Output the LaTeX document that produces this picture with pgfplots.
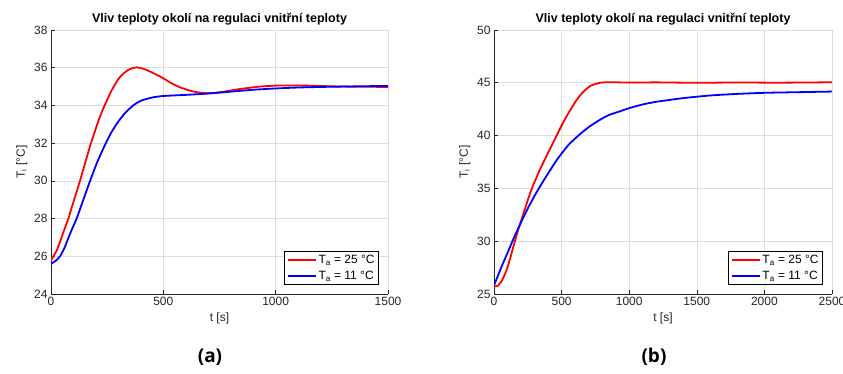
\documentclass[border=0pt]{standalone}
\usepackage{fontspec}
\setmainfont{Liberation Sans}
\newfontfamily\capfont{Open Sans}
\usepackage{pgfplots}
\pgfplotsset{compat=1.18}
\definecolor{axgray}{gray}{0.15}
\definecolor{gridgray}{gray}{0.87}
\pgfplotsset{mystyle/.style={
  scale only axis, width=337pt, height=264pt,
  axis x line*=bottom, axis y line*=left,
  axis line style={axgray, line width=0.6pt, -},
  grid=major, major grid style={gridgray, line width=0.6pt},
  tick style={axgray, line width=0.6pt}, tick align=inside,
  major tick length=4pt,
  /pgf/number format/assume math mode=true,
  /pgf/number format/1000 sep={}, scaled ticks=false,
  tick label style={font=\fontsize{12}{12}\selectfont, text=axgray},
  label style={font=\fontsize{12}{12}\selectfont, text=axgray},
  title style={font=\bfseries\fontsize{12.5}{12.5}\selectfont, yshift=-5pt},
  title={Vliv teploty okolí na regulaci vnitřní teploty},
  xlabel={t [s]}, ylabel={T\textsubscript{i} [°C]},
  legend style={at={(0.973,0.034)}, anchor=south east, draw=black, line width=0.6pt,
    font=\fontsize{12}{12}\selectfont, inner sep=2pt, row sep=2pt},
  legend cell align=left,
  legend image code/.code={\draw[#1, line width=1.8pt] (0pt,0pt) -- (28pt,0pt);},
  every axis plot/.append style={line width=1.8pt, no marks, line join=round, smooth, tension=0.4},
}}
\begin{document}
\begin{tikzpicture}
\useasboundingbox (0pt,0pt) rectangle (843pt,-374pt);
\begin{axis}[mystyle, at={(51pt,-294pt)}, anchor=south west,
  xmin=0, xmax=1500, ymin=24, ymax=38,
  xtick={0,500,1000,1500}, ytick={24,26,...,38}]
\addplot[red] coordinates {
(0,25.8)(25,26.3)(47,27.0)(62,27.5)(77,28.0)(90,28.5)(103,29.0)(116,29.5)(129,30.0)
(141,30.5)(152,30.95)(163,31.4)(174,31.85)(189,32.4)(203,32.9)(218,33.4)(233,33.85)
(250,34.3)(270,34.8)(300,35.4)(325,35.72)(350,35.92)(381,36.02)(410,35.95)
(440,35.8)(470,35.63)(500,35.44)(540,35.15)(574,34.96)(619,34.78)(660,34.68)
(693,34.65)(730,34.67)(780,34.75)(830,34.85)(880,34.93)(930,35.0)(1000,35.05)
(1100,35.06)(1200,35.03)(1300,35.0)(1400,34.99)(1500,34.98)};
\addlegendentry{T\textsubscript{a} = 25 °C}
\addplot[blue] coordinates {
(0,25.6)(20,25.75)(40,26.0)(60,26.45)(85,27.2)(114,28.0)(144,29.0)(174,30.0)
(206,31.0)(240,31.9)(270,32.6)(300,33.15)(330,33.6)(366,34.0)(400,34.25)(450,34.42)
(500,34.5)(600,34.56)(700,34.63)(800,34.73)(900,34.83)(1000,34.9)(1100,34.95)
(1200,34.98)(1300,35.0)(1400,35.02)(1500,35.03)};
\addlegendentry{T\textsubscript{a} = 11 °C}
\end{axis}
\begin{axis}[mystyle, at={(494pt,-294pt)}, anchor=south west, width=338pt,
  xmin=0, xmax=2500, ymin=25, ymax=50,
  xtick={0,500,...,2500}, ytick={25,30,...,50}]
\addplot[red] coordinates {
(0,25.7)(30,25.8)(60,26.3)(94,27.3)(120,28.4)(148,29.7)(175,30.9)(200,31.9)
(240,33.5)(280,35.0)(330,36.5)(380,37.85)(420,38.9)(463,40.0)(520,41.45)(587,42.9)
(630,43.7)(673,44.3)(720,44.75)(784,45.0)(850,45.06)(1000,45.02)(1200,45.04)
(1500,45.0)(1800,45.03)(2100,45.01)(2500,45.05)};
\addlegendentry{T\textsubscript{a} = 25 °C}
\addplot[blue] coordinates {
(0,25.8)(50,27.4)(100,28.9)(150,30.4)(200,31.8)(250,33.1)(300,34.3)(360,35.6)
(414,36.7)(476,37.9)(550,39.1)(624,40.0)(700,40.8)(784,41.5)(850,41.95)(932,42.3)
(1000,42.6)(1100,42.95)(1200,43.2)(1400,43.55)(1600,43.8)(1800,43.95)(2000,44.05)
(2200,44.1)(2500,44.17)};
\addlegendentry{T\textsubscript{a} = 11 °C}
\end{axis}
\node[font=\capfont\bfseries\fontsize{19}{19}\selectfont] at (210pt,-357pt) {(a)};
\node[font=\capfont\bfseries\fontsize{19}{19}\selectfont] at (654pt,-357pt) {(b)};
\end{tikzpicture}
\end{document}
